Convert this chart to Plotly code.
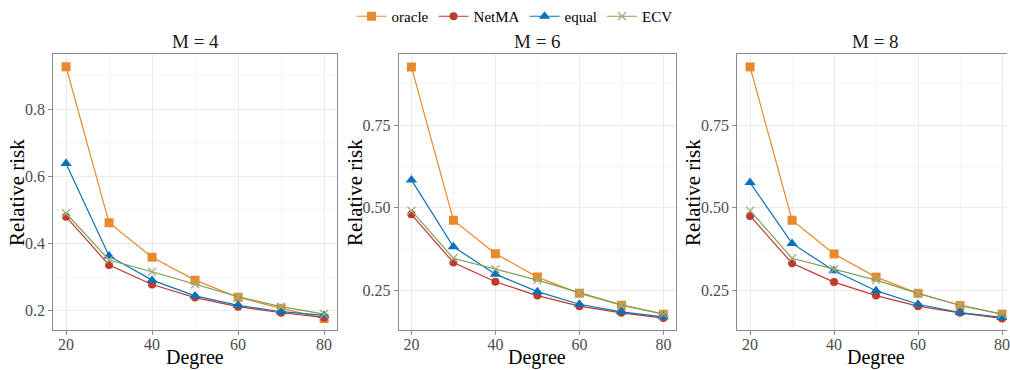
import plotly.graph_objects as go
from plotly.subplots import make_subplots

degree = [20, 30, 40, 50, 60, 70, 80]
panel_titles = ["M = 4", "M = 6", "M = 8"]
series_names = ["oracle", "NetMA", "equal", "ECV"]

# M = 4
oracle_m4 = [0.926, 0.462, 0.359, 0.291, 0.240, 0.207, 0.177]
netma_m4 = [0.480, 0.336, 0.278, 0.239, 0.212, 0.194, 0.180]
equal_m4 = [0.638, 0.363, 0.291, 0.244, 0.216, 0.197, 0.186]
ecv_m4 = [0.490, 0.351, 0.316, 0.279, 0.242, 0.212, 0.190]

# M = 6
oracle_m6 = [0.926, 0.462, 0.361, 0.290, 0.241, 0.205, 0.178]
netma_m6 = [0.480, 0.334, 0.276, 0.234, 0.202, 0.182, 0.166]
equal_m6 = [0.584, 0.382, 0.299, 0.246, 0.208, 0.185, 0.170]
ecv_m6 = [0.491, 0.347, 0.314, 0.281, 0.243, 0.206, 0.178]

# M = 8
oracle_m8 = [0.926, 0.462, 0.360, 0.290, 0.241, 0.204, 0.178]
netma_m8 = [0.475, 0.332, 0.275, 0.234, 0.202, 0.182, 0.165]
equal_m8 = [0.576, 0.392, 0.309, 0.249, 0.208, 0.183, 0.168]
ecv_m8 = [0.491, 0.347, 0.314, 0.281, 0.241, 0.205, 0.178]

panels = [
    [oracle_m4, netma_m4, equal_m4, ecv_m4],
    [oracle_m6, netma_m6, equal_m6, ecv_m6],
    [oracle_m8, netma_m8, equal_m8, ecv_m8],
]

colors = ["#E8892B", "#C0392B", "#0A72B8", "#7F9F5A"]
symbols = ["square", "circle", "triangle-up", "x-thin"]
sizes = [9, 8, 10, 8]

W, H = 1010, 370
FONT = "Liberation Serif"

fig = make_subplots(rows=1, cols=3)

for p, vals in enumerate(panels):
    for s, name in enumerate(series_names):
        marker = dict(symbol=symbols[s], size=sizes[s], color=colors[s])
        if symbols[s] == "x-thin":
            marker["line"] = dict(color="#9DB27F", width=1.3)
        fig.add_trace(
            go.Scatter(
                x=degree, y=vals[s], name=name, mode="lines+markers",
                line=dict(color=colors[s], width=1.2),
                marker=marker, showlegend=(p == 0), legendgroup=name,
            ),
            row=1, col=p + 1,
        )

# pixel geometry
x_px = [(53.3, 338.0), (400.0, 678.0), (739.3, 1010.0)]
x_ranges = [[17, 83], [17, 83], [16.91, 81.19]]
y_ranges = [[0.1426, 0.964], [0.13, 0.965], [0.13, 0.965]]
y_dom = [(H - 330) / H, (H - 54) / H]

grid_major = "#EBEBEB"
grid_minor = "#F4F4F4"
border = "#8A8A8A"
tickfont = dict(family=FONT, size=16, color="#4D4D4D")

for i in range(3):
    xa = "xaxis" if i == 0 else f"xaxis{i+1}"
    ya = "yaxis" if i == 0 else f"yaxis{i+1}"
    fig.layout[xa].update(
        domain=[x_px[i][0] / W, x_px[i][1] / W], range=x_ranges[i],
        tickmode="array", tickvals=[20, 40, 60, 80],
        showgrid=True, gridcolor=grid_major, gridwidth=1,
        minor=dict(tickmode="array", tickvals=[30, 50, 70], showgrid=True,
                   gridcolor=grid_minor, gridwidth=1),
        showline=True, linecolor=border, linewidth=1, mirror=True,
        ticks="outside", ticklen=4, tickcolor=border, tickfont=tickfont,
        ticklabelstandoff=-4, ticklabeloverflow="allow", zeroline=False,
    )
    if i == 0:
        yt = [0.2, 0.4, 0.6, 0.8]
        ym = [0.3, 0.5, 0.7, 0.9]
    else:
        yt = [0.25, 0.5, 0.75]
        ym = [0.375, 0.625, 0.875]
    fig.layout[ya].update(
        domain=y_dom, range=y_ranges[i],
        tickmode="array", tickvals=yt,
        ticktext=[("%.1f" % v) if i == 0 else ("%.2f" % v) for v in yt],
        showgrid=True, gridcolor=grid_major, gridwidth=1,
        minor=dict(tickmode="array", tickvals=ym, showgrid=True,
                   gridcolor=grid_minor, gridwidth=1),
        showline=True, linecolor=border, linewidth=1, mirror=(i < 2),
        ticks="outside", ticklen=4, tickcolor=border, tickfont=tickfont,
        zeroline=False,
    )

annotations = []
title_x = [(x_px[0][0] + x_px[0][1]) / 2, (x_px[1][0] + x_px[1][1]) / 2, (739.3 + 1017) / 2]
ylab_x = [17, 356, 695]
for i in range(3):
    annotations.append(dict(
        text=panel_titles[i], x=title_x[i] / W, y=(H - 42) / H, xref="paper", yref="paper",
        showarrow=False, xanchor="center", yanchor="middle",
        font=dict(family=FONT, size=19, color="#1A1A1A"),
    ))
    annotations.append(dict(
        text="Degree", x=title_x[i] / W, y=(H - 357) / H, xref="paper", yref="paper",
        showarrow=False, xanchor="center", yanchor="middle",
        font=dict(family=FONT, size=20, color="black"),
    ))
    annotations.append(dict(
        text="Relative risk", x=ylab_x[i] / W, y=(H - 192) / H, xref="paper", yref="paper",
        showarrow=False, xanchor="center", yanchor="middle", textangle=-90,
        font=dict(family=FONT, size=21, color="black"),
    ))

fig.update_layout(
    width=W, height=H,
    margin=dict(l=0, r=0, t=0, b=0),
    paper_bgcolor="white", plot_bgcolor="white",
    font=dict(family=FONT),
    annotations=annotations,
    legend=dict(
        orientation="h", x=0.511, y=1.0, xanchor="center", yanchor="top",
        font=dict(family=FONT, size=15, color="black"),
        itemwidth=30, tracegroupgap=0, bgcolor="rgba(0,0,0,0)",
    ),
)

fig.write_html(
    "out.html",
    config={"displayModeBar": False},
    post_script="document.body.style.margin='0';document.body.style.overflow='hidden';",
)
